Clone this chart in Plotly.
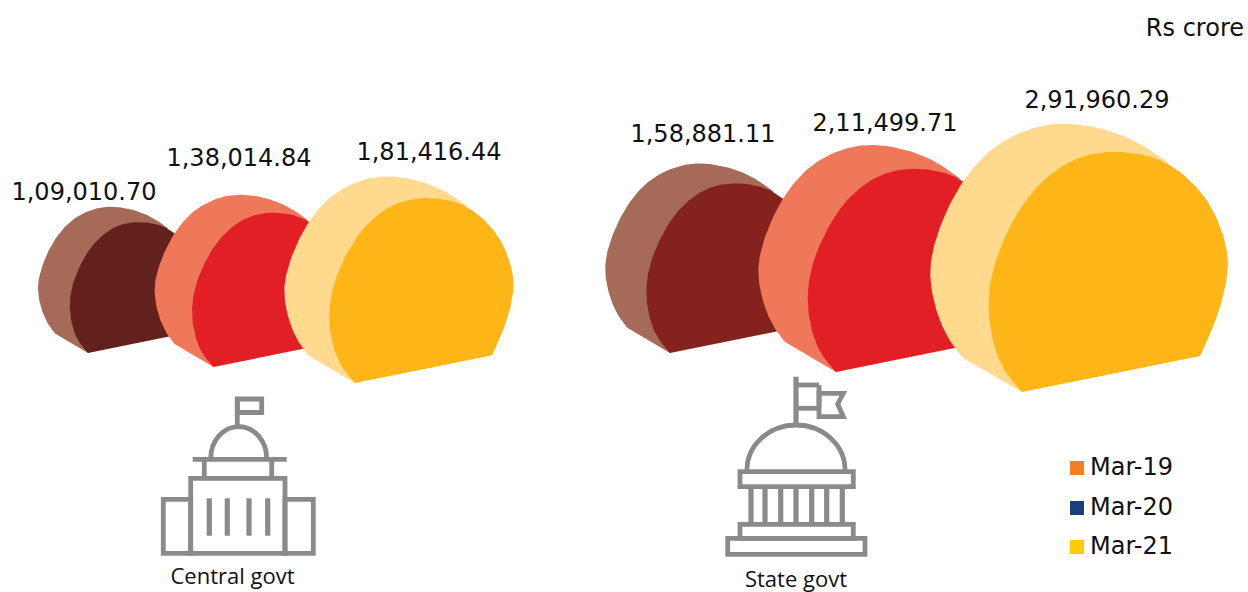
import numpy as np
import plotly.graph_objects as go

# ---- data ----
groups = ["Central govt", "State govt"]
periods = ["Mar-19", "Mar-20", "Mar-21"]
central_values = [109010.70, 138014.84, 181416.44]
state_values = [158881.11, 211499.71, 291960.29]
unit_note = "Rs crore"

# ---- styles and layout ----
FONT_NUM = "DejaVu Sans"
FONT_CAP = "Open Sans"
GREY = "#8A8A8A"
legend_colors = ["#F47F20", "#1B3F78", "#FFCB05"]
pale_colors = ["#A66B58", "#EF775A", "#FED98E"]
front_colors = {"Central govt": ["#62211C", "#E31F26", "#FEB518"],
                "State govt": ["#84231E", "#E31F26", "#FEB518"]}
anchors = {"Central govt": [(88, 353), (213.5, 367), (355, 383)],
           "State govt": [(670, 353), (836, 372), (1022, 392)]}
label_pos = {"Central govt": [(84, 194), (239, 160), (429, 154)],
             "State govt": [(703, 136), (885, 125), (1097, 102)]}

# Outline of the largest solid, relative to its lower front corner
FRONT_ARC = [(178, -36), (195, -72), (205.5, -112), (206.5, -136), (200, -162), (185, -196),
             (155, -224), (130, -236), (99, -241), (68, -239), (39, -227), (10, -202),
             (-11, -169), (-30, -126), (-35, -86), (-30, -52), (-20, -22), (0, 0)]
BACK_ARC = [(-59, -34), (-74, -52), (-87, -82), (-93, -116), (-90, -142), (-75, -186),
            (-49, -227), (-20, -252), (14, -266), (47, -270), (89, -262), (122, -247), (146, -229)]


def smooth(pts, n=10, win=21):
    p = np.array(pts, float)
    p = np.vstack([2 * p[0] - p[1], p, 2 * p[-1] - p[-2]])
    out = []
    for i in range(1, len(p) - 2):
        for t in np.linspace(0, 1, n, endpoint=False):
            out.append(0.5 * ((2 * p[i]) + (p[i + 1] - p[i - 1]) * t
                              + (2 * p[i - 1] - 5 * p[i] + 4 * p[i + 1] - p[i + 2]) * t ** 2
                              + (3 * p[i] - p[i - 1] - 3 * p[i + 1] + p[i + 2]) * t ** 3))
    out.append(p[-2])
    c = np.array(out)
    # odd reflection keeps the two end corners fixed while the arc is evened out
    h = 2 * (win // 2) + 2
    pad = np.vstack([2 * c[0] - c[h:0:-1], c, 2 * c[-1] - c[-2:-h - 2:-1]])
    kernel = np.hanning(win + 2)[1:-1]
    kernel /= kernel.sum()
    for _ in range(2):
        pad = np.column_stack([np.convolve(pad[:, k], kernel, mode="same") for k in range(2)])
    return np.vstack([c[0], pad[h + 1:-h - 1], c[-1]])


front_outline = np.vstack([[(0, 0)], smooth(FRONT_ARC)])
back_outline = np.vstack([[(0, 0)], smooth(BACK_ARC)])


def solid_scale(value, vmax):
    """Linear size of a solid from its value."""
    r = value / vmax
    return 0.545 + 0.907 * (r - 0.373) - 0.478 * (r - 0.373) * (r - 0.621)


def indian(v):
    whole, frac = f"{v:.2f}".split(".")
    head, tail = whole[:-3], whole[-3:]
    parts = []
    while len(head) > 2:
        parts.insert(0, head[-2:])
        head = head[:-2]
    if head:
        parts.insert(0, head)
    return ",".join(parts + [tail]) + "." + frac


fig = go.Figure()
vmax = max(central_values + state_values)


def poly(outline, ax, ay, s, color, name, hover):
    fig.add_trace(go.Scatter(x=ax + outline[:, 0] * s, y=ay + outline[:, 1] * s,
                             mode="lines", fill="toself", fillcolor=color,
                             line=dict(width=0, color=color), name=name,
                             hoverinfo="text", text=hover, showlegend=False))


for g, vals in zip(groups, [central_values, state_values]):
    for i, v in enumerate(vals):
        ax, ay = anchors[g][i]
        s = solid_scale(v, vmax)
        hover = f"{g} {periods[i]}: {indian(v)}"
        poly(back_outline, ax, ay, s, pale_colors[i], f"{g} {periods[i]} depth", hover)
        poly(front_outline, ax, ay, s, front_colors[g][i], f"{g} {periods[i]}", hover)
    fig.add_trace(go.Scatter(x=[p[0] for p in label_pos[g]], y=[p[1] for p in label_pos[g]],
                             mode="text", text=[indian(v) for v in vals],
                             textposition="middle center",
                             textfont=dict(family=FONT_NUM, size=24, color="#111111"),
                             hoverinfo="skip", showlegend=False))

# ---- legend ----
legend_y = [468, 508, 547]
for name, c, y in zip(periods, legend_colors, legend_y):
    fig.add_trace(go.Scatter(x=[1077], y=[y], mode="markers",
                             marker=dict(symbol="square", size=14, color=c, line=dict(width=0)),
                             name=name, hoverinfo="name", showlegend=False))
    fig.add_trace(go.Scatter(x=[1090], y=[y + 1], mode="text", text=[name],
                             textposition="middle right",
                             textfont=dict(family=FONT_NUM, size=24, color="#111111"),
                             hoverinfo="skip", showlegend=False))

# ---- pictograms ----
K = 0.5523
shapes = []


def rect(x0, y0, x1, y1, w=4.8):
    shapes.append(dict(type="rect", x0=x0, y0=y0, x1=x1, y1=y1, xref="x", yref="y",
                       line=dict(color=GREY, width=w), fillcolor="rgba(0,0,0,0)"))


def seg(x0, y0, x1, y1, w=4.8):
    shapes.append(dict(type="line", x0=x0, y0=y0, x1=x1, y1=y1, xref="x", yref="y",
                       line=dict(color=GREY, width=w)))


def dome(cx, cy, rx, ry, w=4.8):
    d = (f"M {cx-rx} {cy} C {cx-rx} {cy-K*ry} {cx-K*rx} {cy-ry} {cx} {cy-ry} "
         f"C {cx+K*rx} {cy-ry} {cx+rx} {cy-K*ry} {cx+rx} {cy}")
    shapes.append(dict(type="path", path=d, xref="x", yref="y",
                       line=dict(color=GREY, width=w), fillcolor="rgba(0,0,0,0)"))


# central government building
seg(237.3, 425, 237.3, 398)
rect(237.3, 399, 261.7, 412.5)
dome(238.7, 458.3, 28, 31.7)
seg(192.7, 459.3, 286.7, 459.3)
seg(204.3, 461, 204.3, 478)
seg(271.7, 461, 271.7, 478)
rect(190.7, 478.3, 285, 553.3)
rect(163.3, 499.3, 190.7, 553.3)
rect(285, 499.3, 313.3, 553.3)
for x in [209.3, 227.3, 249, 267.7]:
    seg(x, 498.3, x, 535.7, 5.2)

# state government building
seg(796, 376.7, 796, 423.3, 5.2)
seg(796, 385, 819, 385)
seg(819, 385, 819, 408.3)
seg(796, 408.3, 819, 408.3)
shapes.append(dict(type="path", path="M 819 393.3 L 843.3 393.3 L 837.7 404 L 843.3 416.7 L 819 416.7 Z",
                   xref="x", yref="y", line=dict(color=GREY, width=4.8), fillcolor="rgba(0,0,0,0)"))
dome(796, 470, 49, 45)
rect(740, 471.7, 853.3, 486.7)
for x in [751, 765, 780.7, 796, 811.7, 826.7, 842.3]:
    seg(x, 486.7, x, 523.3, 5.2)
rect(740, 524.3, 853.3, 538.3)
rect(727.7, 538.3, 865, 554.3)

caption_pos = [(232.5, 578), (796, 581.5)]
for g, (x, y) in zip(groups, caption_pos):
    fig.add_trace(go.Scatter(x=[x], y=[y], mode="text", text=[g], textposition="middle center",
                             textfont=dict(family=FONT_CAP, size=22, color="#111111"),
                             hoverinfo="skip", showlegend=False))

fig.add_trace(go.Scatter(x=[1244], y=[30], mode="text", text=[unit_note], textposition="middle left",
                         textfont=dict(family=FONT_NUM, size=24, color="#111111"),
                         hoverinfo="skip", showlegend=False))

fig.update_layout(width=1248, height=592, margin=dict(l=0, r=0, t=0, b=0),
                  paper_bgcolor="white", plot_bgcolor="white", shapes=shapes, showlegend=False,
                  xaxis=dict(range=[0, 1248], visible=False, fixedrange=True),
                  yaxis=dict(range=[592, 0], visible=False, fixedrange=True))
fig.write_html("out.html", post_script="document.body.style.margin='0';",
               config=dict(displayModeBar=False))
